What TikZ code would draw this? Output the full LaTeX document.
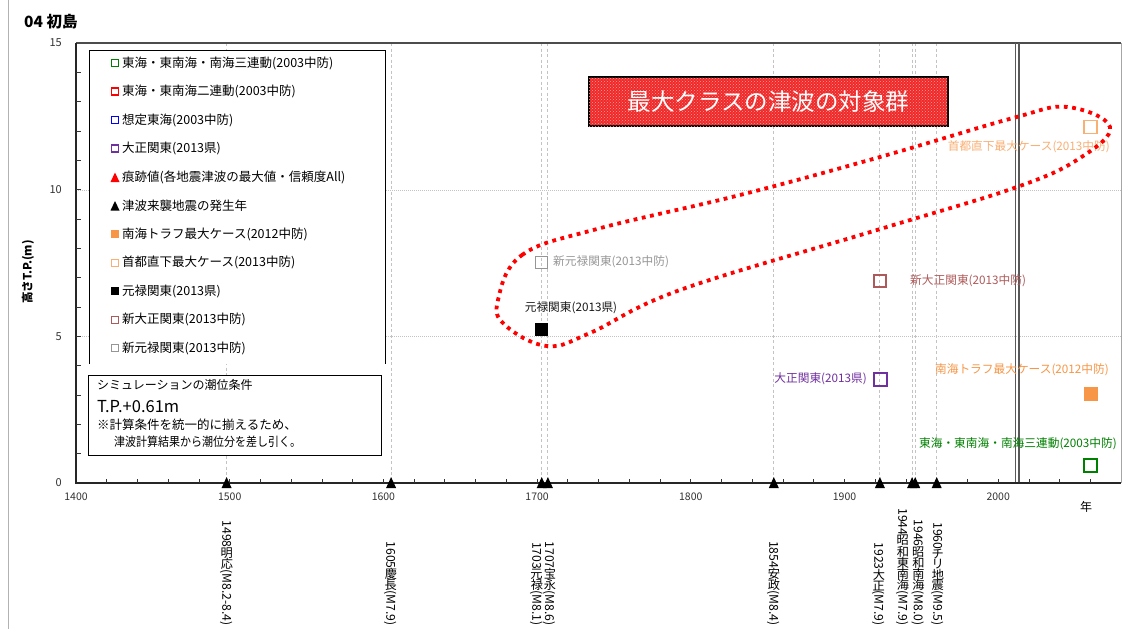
\documentclass[tikz,border=0pt]{standalone}
\usepackage{fontspec}
\setmainfont{Noto Sans CJK JP}
\usepackage{graphicx}
\usetikzlibrary{patterns}
\newcommand\fsz[1]{\fontsize{#1}{#1}\selectfont}
\newcommand\vk[1]{\rotatebox[origin=c]{90}{#1}}
\definecolor{cgreen}{RGB}{0,128,0}
\definecolor{cred}{RGB}{255,0,0}
\definecolor{cblue}{RGB}{0,0,255}
\definecolor{cpurple}{RGB}{112,48,160}
\definecolor{corange}{RGB}{247,150,70}
\definecolor{clorange}{RGB}{250,175,115}
\definecolor{cbrown}{RGB}{175,90,90}
\definecolor{cgray}{RGB}{150,150,150}
\definecolor{gridc}{RGB}{195,195,195}
\definecolor{boxred}{RGB}{240,40,40}
\begin{document}
\begin{tikzpicture}[x=1pt,y=-1pt,
  gridv/.style={gridc, line width=0.9pt, dash pattern=on 3pt off 2.5pt},
  gridh/.style={gridc, line width=0.9pt, dash pattern=on 1pt off 1pt},
  leg/.style={anchor=west, inner sep=0pt, font=\fsz{12.5}},
  dlab/.style={inner sep=0pt, font=\fsz{11.7}},
  ylab/.style={anchor=east, inner sep=0pt, font=\fsz{11}, text=black!80},
  xlab/.style={inner sep=0pt, font=\fsz{10.5}, text=black!80},
  evlab/.style={rotate=-90, anchor=east, inner sep=0pt, font=\fsz{12.2}},
  tri/.style={fill=black}
]
\useasboundingbox (0,0) rectangle (1137,629);
\clip (0,0) rectangle (1137,629);
\fill[white] (0,0) rectangle (1137,629);
\draw[gray!60, line width=0.8pt] (8,0) -- (8,629);

% title
\node[anchor=west, inner sep=0pt, font=\fsz{15.5}\bfseries] (ttl) at (24,22) {04 初島};

% grid lines
\foreach \x in {226.6,391.1,541.7,547.9,773.8,879.9,912.1,915.2,936.7}
  \draw[gridv] (\x,43) -- (\x,483);
\foreach \y in {190,336.5}
  \draw[gridh] (76,\y) -- (1121,\y);

% frame
\draw[gray!70, line width=1pt] (1121,43) -- (1121,483);
\draw[black!70, line width=1.5pt] (76,43) -- (1121,43);
\draw[black!65, line width=1.2pt] (1015.5,43) -- (1015.5,483);
\draw[black!65, line width=1.2pt] (1019,43) -- (1019,483);
\draw[black!85, line width=1.3pt] (76,43) -- (76,483) -- (1121,483);

% ticks
\foreach \k in {1,...,14}
  \draw[black!80, line width=0.8pt] (76,{483-29.33*\k}) -- ++(5,0);
\foreach \k in {1,...,33}
  \draw[black!80, line width=0.8pt] ({76+30.74*\k},483) -- ++(0,-4);

% axis labels
\node[ylab] (y15) at (62,43) {15};
\node[ylab] (y10) at (62,190) {10};
\node[ylab] (y5) at (62,336.5) {5};
\node[ylab] (y0) at (62,483) {0};
\node[rotate=90, inner sep=0pt, font=\fsz{11.5}\bfseries] (ytitle) at (28,272) {高さT.P.(m)};
\foreach \yr/\x in {1400/76,1500/229.7,1600/383.4,1700/537.1,1800/690.8,1900/844.5,2000/998.2}
  \node[xlab] (x\yr) at (\x,497) {\yr};
\node[inner sep=0pt, font=\fsz{12}] (nen) at (1086,507) {年};

% triangles on axis
\foreach \x in {226.6,391.1,541.7,547.9,773.8,879.9,912.1,915.2,936.7}
  \fill[tri] ({\x-5},488) -- ({\x+5},488) -- (\x,477) -- cycle;

% event labels
\node[evlab] (e1498) at (226.6,626) {1498\vk{明}\vk{応}(M8.2-8.4)};
\node[evlab] (e1605) at (390.5,626) {1605\vk{慶}\vk{長}(M7.9)};
\node[evlab] (e1703) at (536.5,626) {1703\vk{元}\vk{禄}(M8.1)};
\node[evlab] (e1707) at (549.5,626) {1707\vk{宝}\vk{永}(M8.6)};
\node[evlab] (e1854) at (773.5,626) {1854\vk{安}\vk{政}(M8.4)};
\node[evlab] (e1923) at (878.5,626) {1923\vk{大}\vk{正}(M7.9)};
\node[evlab] (e1944) at (902.5,626) {1944\vk{昭}\vk{和}\vk{東}\vk{南}\vk{海}(M7.9)};
\node[evlab] (e1946) at (918,626) {1946\vk{昭}\vk{和}\vk{南}\vk{海}(M8.0)};
\node[evlab] (e1960) at (937.5,626) {1960\vk{チ}\vk{リ}\vk{地}\vk{震}(M9.5)};

% legend
\fill[white] (89,50) rectangle (385,364);
\draw[black, line width=0.8pt] (89,364) -- (89,50) -- (385,50) -- (385,364);
\draw[cgreen, line width=1.4pt] (111.5,59.5) rectangle ++(7,7);
\node[leg] (l1) at (122,63) {東海・東南海・南海三連動(2003中防)};
\draw[cred, line width=1.4pt] (111.5,88) rectangle ++(7,7);
\node[leg] (l2) at (122,91.5) {東海・東南海二連動(2003中防)};
\draw[cblue, line width=1.4pt] (111.5,116.5) rectangle ++(7,7);
\node[leg] (l3) at (122,120) {想定東海(2003中防)};
\draw[cpurple, line width=1.4pt] (111.5,145) rectangle ++(7,7);
\node[leg] (l4) at (122,148.5) {大正関東(2013県)};
\fill[cred] (110.5,182) -- (119.5,182) -- (115,172.5) -- cycle;
\node[leg] (l5) at (122,177) {痕跡値(各地震津波の最大値・信頼度All)};
\fill[black] (110.5,210.5) -- (119.5,210.5) -- (115,201) -- cycle;
\node[leg] (l6) at (122,205.5) {津波来襲地震の発生年};
\fill[corange] (111,230) rectangle ++(8,8);
\node[leg] (l7) at (122,234) {南海トラフ最大ケース(2012中防)};
\draw[clorange, line width=0.8pt] (111.5,259) rectangle ++(7,7);
\node[leg] (l8) at (122,262.5) {首都直下最大ケース(2013中防)};
\fill[black] (111,287) rectangle ++(8,8);
\node[leg] (l9) at (122,291) {元禄関東(2013県)};
\draw[cbrown, line width=0.8pt] (111.5,316) rectangle ++(7,7);
\node[leg] (l10) at (122,319.5) {新大正関東(2013中防)};
\draw[cgray, line width=0.8pt] (111.5,344.5) rectangle ++(7,7);
\node[leg] (l11) at (122,348) {新元禄関東(2013中防)};

% condition box
\fill[white] (88,375) rectangle (381,455);
\draw[black, line width=0.8pt] (88,375) rectangle (381,455);
\draw[black, line width=1.2pt] (88,455.5) -- (381.5,455.5) -- (381.5,375);
\node[anchor=west, inner sep=0pt, font=\fsz{12}] (c1) at (97,385) {シミュレーションの潮位条件};
\node[anchor=west, inner sep=0pt, font=\fsz{16.5}] (c2) at (97,407) {T.P.+0.61m};
\node[anchor=west, inner sep=0pt, font=\fsz{12.5}] (c3) at (97,425) {※計算条件を統一的に揃えるため、};
\node[anchor=west, inner sep=0pt, font=\fsz{12.5}] (c4) at (114,442) {\scalebox{0.88}[1]{津波計算結果から潮位分を差し引く。}};

% target group title box
\node[draw=black, line width=1.8pt, fill=boxred,
      postaction={pattern=crosshatch dots, pattern color=white!55!boxred},
      minimum width=359pt, minimum height=49pt, inner sep=0pt,
      text=white, font=\fsz{23.5}] (tbox) at (768.5,101.5) {最大クラスの津波の対象群};

% data points
\draw[cgray, line width=1pt] (535,256) rectangle ++(12,12);
\node[dlab, anchor=west, text=cgray] (p1) at (553,262) {新元禄関東(2013中防)};
\fill[black] (534.5,322.5) rectangle ++(13,13);
\node[dlab, text=black!90] (p2) at (571,308) {元禄関東(2013県)};
\draw[cbrown, line width=1.3pt] (874,275) rectangle ++(12,12);
\node[dlab, anchor=west, text=cbrown] (p3) at (910,281) {新大正関東(2013中防)};
\draw[cpurple, line width=2pt] (873.5,372.5) rectangle ++(13,13);
\node[dlab, anchor=east, text=cpurple] (p4) at (867,379) {大正関東(2013県)};
\fill[corange] (1083.5,387) rectangle ++(14,14);
\node[dlab, anchor=east, text=corange] (p5) at (1109,370) {南海トラフ最大ケース(2012中防)};
\draw[cgreen, line width=2pt] (1084,458.5) rectangle ++(13,13);
\node[dlab, anchor=east, text=cgreen] (p6) at (1117,444) {東海・東南海・南海三連動(2003中防)};
\draw[clorange, line width=1.6pt] (1084,120.5) rectangle ++(13,13);
\node[dlab, anchor=east, text=clorange] (p7) at (1110,147) {首都直下最大ケース(2013中防)};

% red dotted loop
\draw[cred, line width=3.8pt, dash pattern=on 3.8pt off 4.6pt]
  plot[smooth cycle, tension=0.65] coordinates {
  (498,300) (522,255) (597,229) (740,195) (880,157) (1013,118) (1067,107)
  (1110,127) (1080,158) (1017,187) (877,230) (680,290) (590,333) (547,346) (505,325)};
\end{tikzpicture}
\end{document}
